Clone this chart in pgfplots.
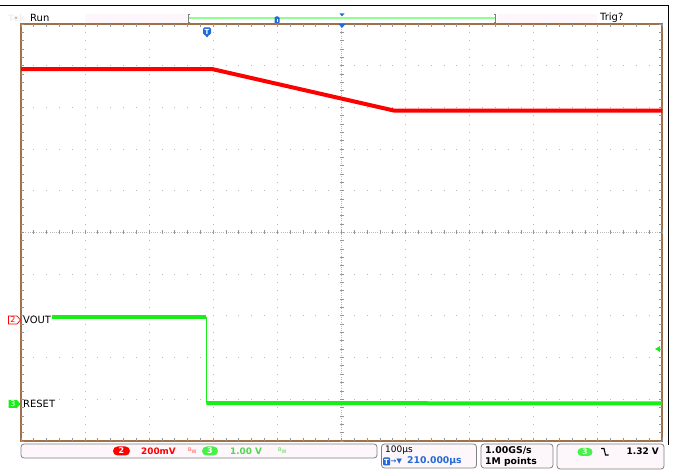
\documentclass[border=0pt]{standalone}
\usepackage{fontspec}
\setmainfont{DejaVu Sans}
\usepackage{pgfplots}
\pgfplotsset{compat=1.18}
\definecolor{brd}{RGB}{160,112,72}
\definecolor{gridc}{RGB}{185,185,185}
\definecolor{tickc}{RGB}{150,150,150}
\definecolor{redtr}{RGB}{255,0,0}
\definecolor{greentr}{RGB}{25,238,25}
\definecolor{greentx}{RGB}{80,215,80}
\definecolor{bluem}{RGB}{35,105,215}
\definecolor{pinkbg}{RGB}{253,246,250}
\definecolor{boxc}{RGB}{130,130,130}
\newcommand{\fs}[1]{\fontsize{#1}{#1}\selectfont}
\begin{document}
\begin{tikzpicture}[x=1bp,y=1bp]
\path[use as bounding box] (0,0) rectangle (674,474);
\fill[white] (0,0) rectangle (674,474);
% black frame
\draw[black, line width=1.3bp] (0,468.5) -- (668.5,468.5) -- (668.5,29);
% top pink areas
\fill[pinkbg] (85,450) rectangle (188,460);
\fill[pinkbg] (497,450) rectangle (597,460);
% Tek / Run / Trig?
\node[anchor=west, text=black!6, font=\bfseries\fs{9}, inner sep=0] at (8,456) {Tek};
\fill[brd!70] (16,456) circle (1bp);
\node[anchor=west, font=\fs{10}, inner sep=0] at (30,456.5) {Run};
\node[anchor=west, font=\fs{10}, inner sep=0] at (600,456.5) {Trig?};
% record length bar
\draw[green!45, line width=1.2bp] (189,456) -- (496,456);
\draw[gray, line width=0.8bp] (190,452) -- (188.5,452) -- (188.5,460) -- (190,460);
\draw[gray, line width=0.8bp] (494,452) -- (495.5,452) -- (495.5,460) -- (494,460);
\fill[bluem, rounded corners=1.5bp] (274.5,450) rectangle (279.5,457.5);
\fill[white] (276.5,451.5) rectangle (277.5,455);
\fill[bluem] (339.5,460.5) -- (344.5,460.5) -- (342,457.5) -- cycle;

\begin{axis}[
  at={(21bp,33bp)}, anchor=south west,
  width=641bp, height=417bp, scale only axis,
  xmin=-5, xmax=5, ymin=-5, ymax=5,
  xtick={-4,-3,-2,-1,1,2,3,4}, ytick={-4,-3,-2,-1,1,2,3,4},
  xticklabels={}, yticklabels={},
  major tick length=0pt,
  xmajorgrids, ymajorgrids,
  major x grid style={gridc, line width=0.9bp, dash pattern=on 0.9bp off 7.44bp, dash phase=0.45bp},
  major y grid style={gridc, line width=0.9bp, dash pattern=on 0.9bp off 11.92bp, dash phase=0.45bp},
  axis line style={brd, line width=1.1bp},
  clip=false,
]
% centre crosshair
\draw[gridc, line width=0.6bp, dash pattern=on 0.6bp off 1.6bp] (axis cs:0,-5) -- (axis cs:0,5);
\draw[tickc, line width=4bp, dash pattern=on 0.9bp off 7.44bp, dash phase=0.45bp] (axis cs:0,-5) -- (axis cs:0,5);
\draw[gridc, line width=0.6bp, dash pattern=on 0.6bp off 1.6bp] (axis cs:-5,0) -- (axis cs:5,0);
\draw[tickc, line width=4bp, dash pattern=on 0.9bp off 11.92bp, dash phase=0.45bp] (axis cs:-5,0) -- (axis cs:5,0);
% traces (divisions)
\addplot[redtr, line width=4bp, line join=round] coordinates {(-5,3.92) (-2.02,3.92) (0.83,2.92) (5,2.92)};
\addplot[greentr, line width=4bp] coordinates {(-4.52,-2.02) (-2.11,-2.02)};
\addplot[greentr, line width=1bp] coordinates {(-2.11,-2.02) (-2.11,-4.08)};
\addplot[greentr, line width=4bp] coordinates {(-2.11,-4.09) (5,-4.10)};
\end{axis}

% border ticks
\draw[tickc, line width=3bp, dash pattern=on 0.9bp off 11.92bp, dash phase=0.45bp] (21,448.5) -- (662,448.5);
\draw[tickc, line width=3bp, dash pattern=on 0.9bp off 11.92bp, dash phase=0.45bp] (21,34.5) -- (662,34.5);
\draw[tickc, line width=3bp, dash pattern=on 0.9bp off 7.44bp, dash phase=0.45bp] (22.5,33) -- (22.5,450);
\draw[tickc, line width=3bp, dash pattern=on 0.9bp off 7.44bp, dash phase=0.45bp] (660.5,33) -- (660.5,450);

% trigger markers on graticule
\fill[bluem] (338.5,450) -- (345.5,450) -- (342,446) -- cycle;
\fill[bluem, rounded corners=1.5bp] (203,439) rectangle (211,446.5);
\fill[bluem] (204.5,439.5) -- (209.5,439.5) -- (207,436.5) -- cycle;
\node[text=white, font=\bfseries\fs{7}, inner sep=0] at (207,442.5) {T};
% trigger level arrow
\fill[greentr] (655,125) -- (660,128) -- (660,122) -- cycle;

% channel markers
\draw[redtr, fill=white, line width=0.7bp] (8.5,150) -- (17,150) -- (20.5,154) -- (17,158) -- (8.5,158) -- cycle;
\node[text=redtr, font=\fs{8}, inner sep=0] at (13,154) {2};
\node[anchor=west, font=\fs{10}, inner sep=0] at (23,154.5) {VOUT};
\fill[greentr] (8.5,66) -- (17,66) -- (20.5,70) -- (17,74) -- (8.5,74) -- cycle;
\node[text=white, font=\fs{8}, inner sep=0] at (13,70) {3};
\node[anchor=west, font=\fs{10}, inner sep=0] at (23,70.5) {RESET};

% status boxes
\draw[boxc, fill=pinkbg, line width=0.8bp, rounded corners=3bp] (21,16) rectangle (377,30);
\draw[boxc, fill=pinkbg, line width=0.8bp, rounded corners=3bp] (381.5,6) rectangle (476.5,30);
\draw[boxc, fill=pinkbg, line width=0.8bp, rounded corners=3bp] (481,6) rectangle (553,30);
\draw[boxc, fill=pinkbg, line width=0.8bp, rounded corners=3bp] (557,5) rectangle (664,30);

% box 1
\fill[redtr, rounded corners=4.5bp] (113,18.5) rectangle (130,27.5);
\node[text=white, font=\bfseries\fs{8}, inner sep=0] at (121.5,23) {2};
\node[anchor=west, text=redtr, font=\bfseries\fs{8.9}, inner sep=0] at (141,23) {200mV};
\node[anchor=west, text=redtr!70, font=\fs{5}, inner sep=0] at (188,23.5) {B\raisebox{-2bp}{W}};
\fill[greentr!80, rounded corners=4.5bp] (202,18.5) rectangle (218,27.5);
\node[text=white, font=\bfseries\fs{8}, inner sep=0] at (210,23) {3};
\node[anchor=west, text=greentx, font=\bfseries\fs{8.9}, inner sep=0] at (230,23) {1.00 V};
\node[anchor=west, text=greentx, font=\fs{5}, inner sep=0] at (278,23.5) {B\raisebox{-2bp}{W}};
% box 2
\node[anchor=west, font=\fs{9}, inner sep=0] at (385,24) {100µs};
\fill[bluem, rounded corners=1bp] (383,8.5) rectangle (390,16.5);
\node[text=white, font=\bfseries\fs{7}, inner sep=0] at (386.5,12.5) {T};
\node[anchor=west, text=bluem, font=\bfseries\fs{7}, inner sep=0] at (390.5,12.5) {→▼};
\node[anchor=west, text=bluem, font=\bfseries\fs{9.3}, inner sep=0] at (407,12.5) {210.000µs};
% box 3
\node[anchor=west, font=\bfseries\fs{9.4}, inner sep=0] at (485,24) {1.00GS/s};
\node[anchor=west, font=\bfseries\fs{9.3}, inner sep=0] at (485,12.5) {1M points};
% box 4
\fill[greentr!80, rounded corners=4bp] (577.5,18) rectangle (592.5,26);
\node[text=white, font=\bfseries\fs{7.5}, inner sep=0] at (585,22) {3};
\draw[black, line width=1.1bp] (601,25.5) -- (604,25.5) -- (605.5,19) -- (608.5,19);
\node[anchor=east, font=\bfseries\fs{9}, inner sep=0] at (659,22.5) {1.32 V};
\end{tikzpicture}
\end{document}
